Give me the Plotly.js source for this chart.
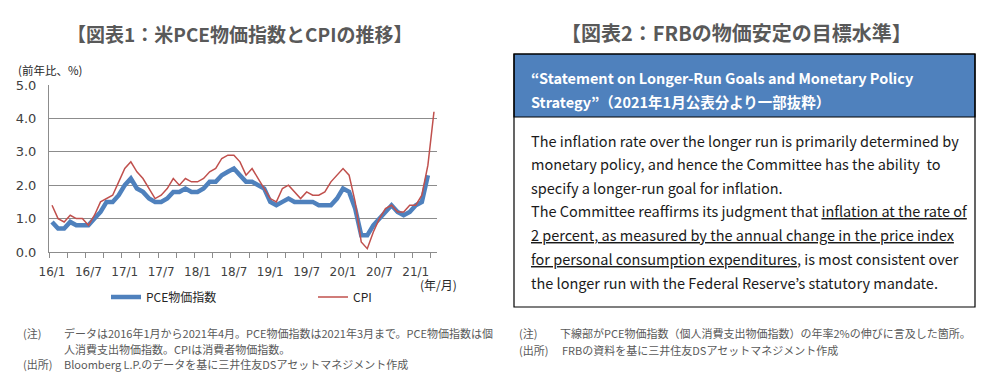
<!DOCTYPE html>
<html><head><meta charset="utf-8">
<script src="https://cdn.plot.ly/plotly-3.0.1.min.js"></script>
<style>html,body{margin:0;padding:0;background:#fff;}#chart{width:988px;height:378px;}</style>
</head><body><div id="chart"></div>
<script>
// ---- data ----
const months = ["16/1","16/2","16/3","16/4","16/5","16/6","16/7","16/8","16/9","16/10","16/11","16/12",
"17/1","17/2","17/3","17/4","17/5","17/6","17/7","17/8","17/9","17/10","17/11","17/12",
"18/1","18/2","18/3","18/4","18/5","18/6","18/7","18/8","18/9","18/10","18/11","18/12",
"19/1","19/2","19/3","19/4","19/5","19/6","19/7","19/8","19/9","19/10","19/11","19/12",
"20/1","20/2","20/3","20/4","20/5","20/6","20/7","20/8","20/9","20/10","20/11","20/12",
"21/1","21/2","21/3","21/4"];
const pce = [0.9,0.7,0.7,0.9,0.8,0.8,0.8,1.0,1.2,1.5,1.5,1.7,
2.0,2.2,1.9,1.8,1.6,1.5,1.5,1.6,1.8,1.8,1.9,1.8,
1.8,1.9,2.1,2.1,2.3,2.4,2.5,2.3,2.1,2.1,2.0,1.9,
1.5,1.4,1.5,1.6,1.5,1.5,1.5,1.5,1.4,1.4,1.4,1.6,
1.9,1.8,1.3,0.5,0.5,0.8,1.0,1.2,1.4,1.2,1.1,1.2,
1.4,1.5,2.3];
const cpi = [1.4,1.0,0.9,1.1,1.0,1.0,0.8,1.1,1.5,1.6,1.7,2.1,
2.5,2.7,2.4,2.2,1.9,1.6,1.7,1.9,2.2,2.0,2.2,2.1,
2.1,2.2,2.4,2.5,2.8,2.9,2.9,2.7,2.3,2.5,2.2,1.9,
1.6,1.5,1.9,2.0,1.8,1.6,1.8,1.7,1.7,1.8,2.1,2.3,
2.5,2.3,1.5,0.3,0.1,0.6,1.0,1.3,1.4,1.2,1.2,1.4,
1.4,1.7,2.6,4.2];
const xTickLabels = ["16/1","16/7","17/1","17/7","18/1","18/7","19/1","19/7","20/1","20/7","21/1"];
const seriesNames = ["PCE物価指数","CPI"];

// ---- texts ----
const title1 = "【図表1：米PCE物価指数とCPIの推移】";
const title2 = "【図表2：FRBの物価安定の目標水準】";
const yUnit = "(前年比、%)";
const xUnit = "(年/月)";
const notes1 = ["(注)", "データは2016年1月から2021年4月。PCE物価指数は2021年3月まで。PCE物価指数は個",
                "人消費支出物価指数。CPIは消費者物価指数。", "(出所)", "Bloomberg L.P.のデータを基に三井住友DSアセットマネジメント作成"];
const notes2 = ["(注)", "下線部がPCE物価指数（個人消費支出物価指数）の年率2%の伸びに言及した箇所。",
                "(出所)", "FRBの資料を基に三井住友DSアセットマネジメント作成"];
const boxHeader = ["“Statement on Longer-Run Goals and Monetary Policy",
                   "Strategy”（2021年1月公表分より一部抜粋）"];
const boxBody = ["The inflation rate over the longer run is primarily determined by",
 "monetary policy, and hence the Committee has the ability  to",
 "specify a longer-run goal for inflation.",
 "The Committee reaffirms its judgment that <u>inflation at the rate of</u>",
 "<u>2 percent, as measured by the annual change in the price index</u>",
 "<u>for personal consumption expenditures</u>, is most consistent over",
 "the longer run with the Federal Reserve’s statutory mandate."];

// ---- layout helpers ----
const W=988, H=378, L=49, R=437, T=85, B=252;
const px = x => (x-L)/(R-L);
const py = y => (B-y)/(B-T);
const JP = '"Noto Sans CJK JP", "Noto Sans", sans-serif';
const NUM = '"DejaVu Sans", sans-serif';
const GRAY = '#595959';
const AX = '#8c8c8c';

const idx = months.map((m,i)=>i);
const minorTicks = [];
for (let k=-0.5; k<months.length; k+=3) minorTicks.push(k);
const majorTicks = xTickLabels.map(l => months.indexOf(l));

function ann(text, x, y, opt){
  opt = opt || {};
  return Object.assign({xref:'paper', yref:'paper', x:px(x), y:py(y), text:text,
    showarrow:false, xanchor:'left', yanchor:'middle',
    font:{family:JP, size:11, color:GRAY}}, opt);
}

const annotations = [
  ann('<b>'+title1+'</b>', 239, 33, {xanchor:'center', font:{family:JP, size:19, color:GRAY}}),
  ann('<b>'+title2+'</b>', 736, 32, {xanchor:'center', font:{family:JP, size:20, color:GRAY}}),
  ann(yUnit, 16, 70, {font:{family:JP, size:11.5, color:'#262626'}}),
  ann(xUnit, 418, 284, {font:{family:JP, size:12, color:'#262626'}}),
  ann(notes1[0], 21, 333), ann(notes1[1], 62, 333),
  ann(notes1[2], 62, 349), ann(notes1[3], 21, 364), ann(notes1[4], 62, 364),
  ann(notes2[0], 517, 333), ann(notes2[1], 558, 333),
  ann(notes2[2], 517, 350), ann(notes2[3], 560, 350)
];
const hdrY = [77, 101];
boxHeader.forEach((t,i)=>annotations.push(ann('<b>'+t+'</b>', 529, hdrY[i], {font:{family:JP, size:14.5, color:'#ffffff'}})));
const bodyY = [140, 163.5, 187, 210.5, 234, 258, 282];
boxBody.forEach((t,i)=>annotations.push(ann(t, 529, bodyY[i], {font:{family:JP, size:14.5, color:'#1a1a1a'}})));

const shapes = [
  {type:'rect', xref:'paper', yref:'paper', x0:px(514), x1:px(975), y0:py(54), y1:py(307), line:{color:'#000', width:1.2}, fillcolor:'rgba(0,0,0,0)'},
  {type:'rect', xref:'paper', yref:'paper', x0:px(514), x1:px(975), y0:py(54), y1:py(117), line:{color:'#000', width:1.2}, fillcolor:'#4F81BD', layer:'below'}
];

const traces = [
  {x:idx.slice(0,pce.length), y:pce, name:seriesNames[0], type:'scatter', mode:'lines',
   line:{color:'#4F81BD', width:4.5}, xaxis:'x', yaxis:'y', hoverinfo:'skip', legend:'legend'},
  {x:idx, y:cpi, name:seriesNames[1], type:'scatter', mode:'lines',
   line:{color:'#C0504D', width:1.5}, xaxis:'x2', yaxis:'y', hoverinfo:'skip', legend:'legend2'}
];

const legendBase = {orientation:'h', xanchor:'left', yanchor:'middle', bgcolor:'rgba(0,0,0,0)',
    font:{family:JP, size:12, color:'#262626'}};

const layout = {
  width:W, height:H, margin:{l:L, r:W-R, t:T, b:H-B, pad:0},
  paper_bgcolor:'#ffffff', plot_bgcolor:'#ffffff',
  showlegend:true,
  legend:Object.assign({x:px(106), y:py(297)}, legendBase),
  legend2:Object.assign({x:px(313), y:py(297)}, legendBase),
  xaxis:{type:'linear', range:[-0.5, months.length-0.5], tickmode:'array', tickvals:majorTicks, ticktext:xTickLabels,
    ticks:'', showgrid:false, zeroline:false, showline:true, linecolor:AX, linewidth:1,
    ticklabelstandoff:9, tickfont:{family:NUM, size:12, color:'#404040'}, fixedrange:true},
  xaxis2:{type:'linear', overlaying:'x', anchor:'y', side:'bottom', range:[-0.5, months.length-0.5],
    tickmode:'array', tickvals:minorTicks, ticks:'outside', ticklen:5, tickcolor:AX, tickwidth:1,
    showticklabels:false, showgrid:false, zeroline:false, showline:false, fixedrange:true},
  yaxis:{range:[0,5], tickmode:'linear', tick0:0, dtick:1, tickformat:'.1f', showgrid:true, gridcolor:AX, gridwidth:1,
    zeroline:false, showline:true, linecolor:AX, linewidth:1, ticks:'', ticklabelstandoff:9,
    tickfont:{family:NUM, size:13, color:'#404040'}, fixedrange:true},
  annotations:annotations, shapes:shapes
};

Plotly.newPlot('chart', traces, layout, {staticPlot:true, displayModeBar:false});
</script></body></html>
